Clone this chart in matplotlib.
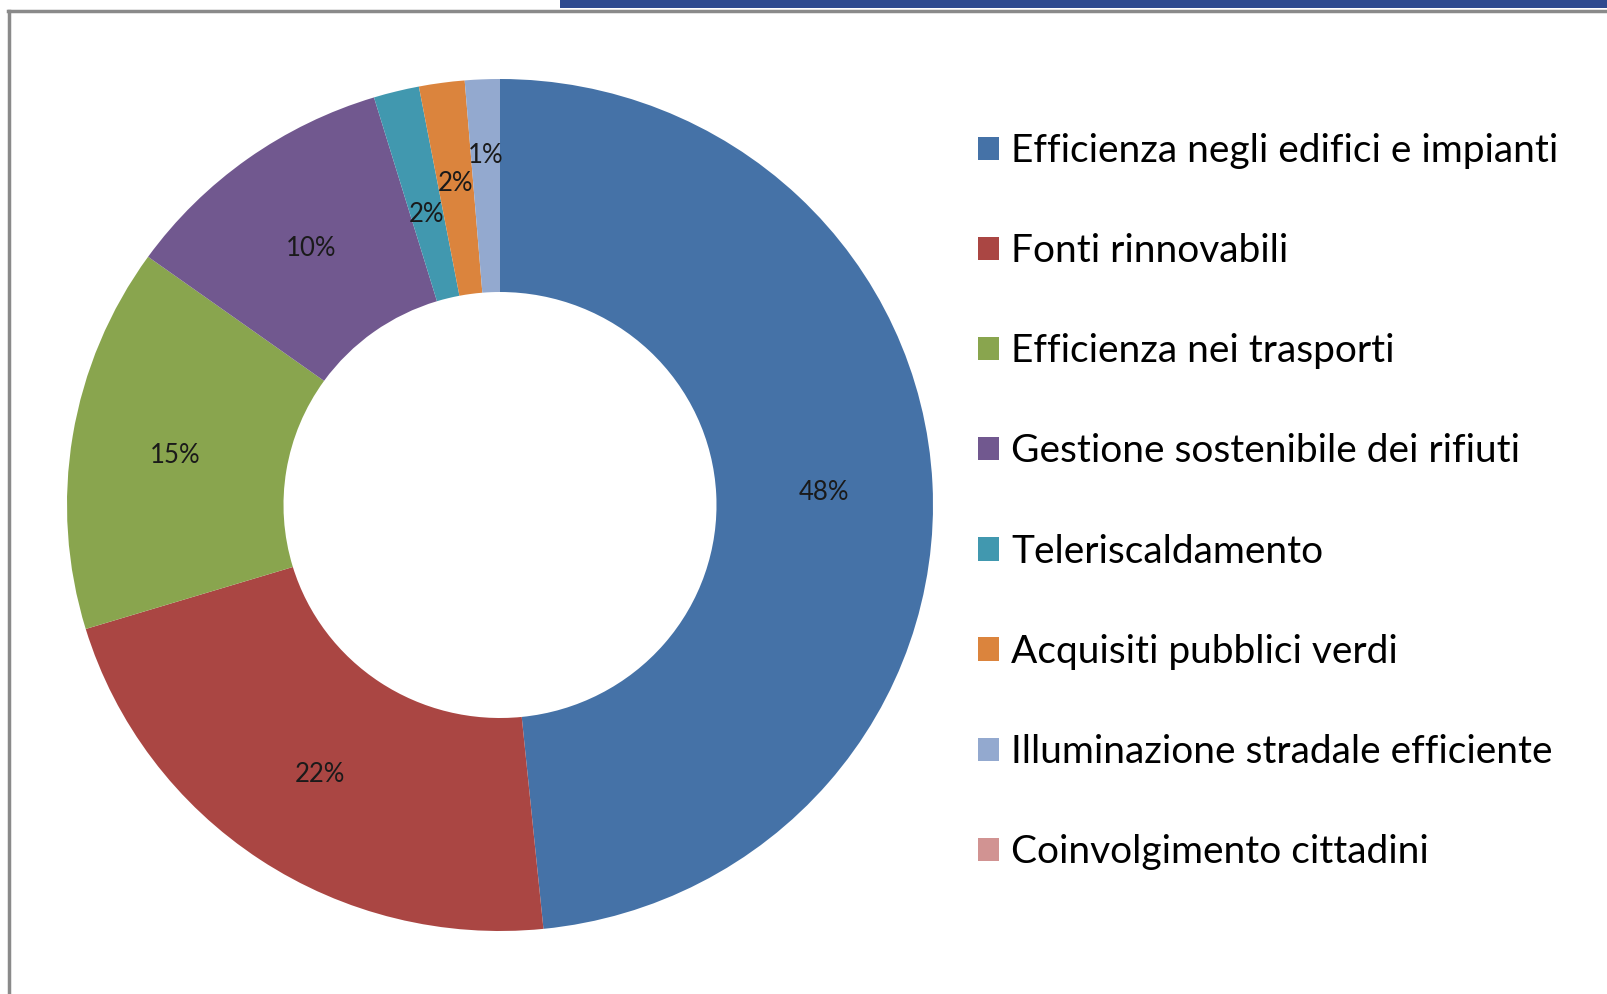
import numpy as np
import matplotlib
matplotlib.use('Agg')
from matplotlib import pyplot as plt
import matplotlib.patches as patches
from matplotlib.lines import Line2D

# data
categories = ['Efficienza negli edifici e impianti', 'Fonti rinnovabili',
              'Efficienza nei trasporti', 'Gestione sostenibile dei rifiuti',
              'Teleriscaldamento', 'Acquisiti pubblici verdi',
              'Illuminazione stradale efficiente', 'Coinvolgimento cittadini']
shares = [48.4, 21.9, 14.6, 10.4, 1.7, 1.7, 1.3, 0.0]
colors = ['#4572A7', '#AA4643', '#89A54E', '#71588F',
          '#4198AF', '#DB843D', '#93A9CF', '#D19392']

plt.rcParams['font.family'] = ['Lato', 'DejaVu Sans']

W, H = 1608, 994
fig = plt.figure(figsize=(W / 100, H / 100), dpi=100)

# frame decorations
fig.add_artist(patches.Rectangle((560 / W, 1 - 8 / H), 1 - 560 / W, 8 / H,
                                 transform=fig.transFigure, color='#2E4A8F', lw=0))
fig.add_artist(Line2D([8 / W, 1], [1 - 11 / H, 1 - 11 / H], transform=fig.transFigure,
                      color='#8A8A8A', lw=2.5))
fig.add_artist(Line2D([9 / W, 9 / W], [0, 1 - 11 / H], transform=fig.transFigure,
                      color='#8A8A8A', lw=2.5))

# donut (slightly wider than tall, as in the original)
cx, cy, rx, ry = 500, 505, 433, 426
ax = fig.add_axes([(cx - rx) / W, (H - cy - ry) / H, 2 * rx / W, 2 * ry / H])
wedges, _ = ax.pie(shares, colors=colors, startangle=90, counterclock=False,
                   wedgeprops=dict(width=0.5, linewidth=0))
ax.set_xlim(-1, 1)
ax.set_ylim(-1, 1)
ax.set_aspect('auto')
ax.axis('off')

# percentage labels at mid ring (small slices staggered)
label_r = [0.75, 0.75, 0.76, 0.75, 0.71, 0.77, 0.83, 0.75]
total = sum(shares)
cum = 0.0
for i, v in enumerate(shares):
    if v > 0:
        mid = 90 - 360 * (cum + v / 2) / total
        a = np.deg2rad(mid)
        ax.text(label_r[i] * np.cos(a), label_r[i] * np.sin(a) - 0.008,
                f"{v / total * 100:.0f}%",
                ha='center', va='center', fontsize=18.5, color='#1a1a1a')
    cum += v

# legend
handles = [patches.Patch(facecolor=c, edgecolor='none') for c in colors]
fig.legend(handles, categories, loc='upper left', bbox_to_anchor=(978 / W, 1 - 133 / H),
           frameon=False, fontsize=28, handlelength=0.55, handleheight=0.55,
           handletextpad=0.3, labelspacing=1.65, borderpad=0, borderaxespad=0)

plt.savefig('out.png', dpi=100)
